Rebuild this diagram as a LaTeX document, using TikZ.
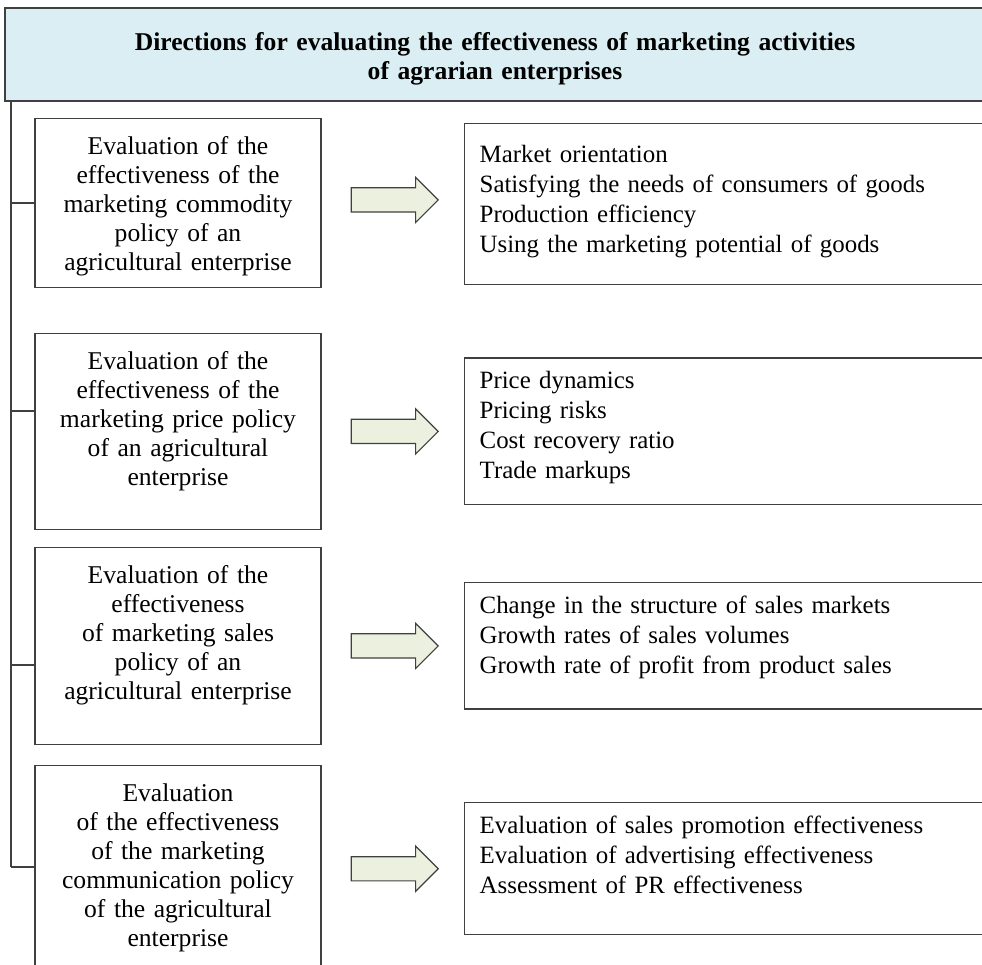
\documentclass[tikz,border=0pt]{standalone}
\usepackage{fontspec}
\setmainfont{Liberation Serif}
\usetikzlibrary{shapes.arrows, positioning}
\definecolor{headblue}{HTML}{DAEEF3}
\definecolor{arrowgreen}{HTML}{EBF1DE}
\definecolor{edgegray}{HTML}{404040}

\begin{document}
\begin{tikzpicture}[
  x=0.5pt, y=-0.5pt,
  headbox/.style={rectangle, draw=edgegray, line width=0.6pt, fill=headblue, align=center, text width=474pt, inner xsep=8pt, text height=13.7pt, text depth=17.3pt, minimum height=46.5pt, font=\fontsize{12.8pt}{14.5pt}\selectfont\bfseries},
  polbox/.style={rectangle, draw=edgegray, line width=0.6pt, anchor=north, text width=127pt, inner xsep=8pt, inner ysep=9pt, align=center, font=\fontsize{12.8pt}{14.5pt}\selectfont},
  resbox/.style={rectangle, draw=edgegray, line width=0.6pt, text width=255pt, inner xsep=7.5pt, inner ysep=6.8pt, align=left, font=\fontsize{12.45pt}{15pt}\selectfont},
  bigarrow/.style={single arrow, draw=edgegray, line width=0.6pt, fill=arrowgreen, minimum height=43.5pt, single arrow head extend=5.25pt, inner xsep=0pt, inner ysep=5.75pt},
  line/.style={draw=edgegray, line width=0.6pt}
]
\clip (0,0) rectangle (982,965);

\node (head) [headbox] at (495,54.5) {Directions for evaluating the effectiveness of marketing activities\\of agrarian enterprises};

% policy boxes
\node (commodity) [polbox, text depth=57.3pt] at (178,118) {Evaluation of the\\effectiveness of the\\marketing commodity\\policy of an\\agricultural enterprise};
\node (price) [polbox, text depth=70.8pt] at (178,333) {Evaluation of the\\effectiveness of the\\marketing price policy\\of an agricultural\\enterprise};
\node (sales) [polbox, text depth=71.3pt] at (178,547) {Evaluation of the\\effectiveness\\of marketing sales\\policy of an\\agricultural enterprise};
\node (comm) [polbox, text depth=76.3pt] at (178,765) {Evaluation\\of the effectiveness\\of the marketing\\communication policy\\of the agricultural\\enterprise};

% arrows
\node (a1) [bigarrow, right=14.5pt of commodity, yshift=1.5pt] {};
\node (a2) [bigarrow, right=14.5pt of price] {};
\node (a3) [bigarrow, right=14.5pt of sales] {};
\node (a4) [bigarrow, right=14.5pt of comm] {};

% indicators
\node (commodityind) [resbox, right=12.5pt of a1, inner ysep=10.8pt, text depth=50.2pt, yshift=-2pt] {Market orientation\\Satisfying the needs of consumers of goods\\Production efficiency\\Using the marketing potential of goods};
\node (priceind) [resbox, right=12.5pt of a2, text depth=51.2pt] {Price dynamics\\Pricing risks\\Cost recovery ratio\\Trade markups};
\node (salesind) [resbox, right=12.5pt of a3, text depth=40.7pt] {Change in the structure of sales markets\\Growth rates of sales volumes\\Growth rate of profit from product sales};
\node (commind) [resbox, right=12.5pt of a4, text depth=43.7pt] {Evaluation of sales promotion effectiveness\\Evaluation of advertising effectiveness\\Assessment of PR effectiveness};

% left bracket
\coordinate (t1) at (11,203);
\coordinate (t2) at (11,411);
\coordinate (t3) at (11,665);
\coordinate (t4) at (11,867);
\draw [line] (head.south -| t1) -- (t4);
\foreach \t/\b in {t1/commodity, t2/price, t3/sales, t4/comm}
  \draw [line] (\t) -- (\t -| \b.west);

\end{tikzpicture}
\end{document}
